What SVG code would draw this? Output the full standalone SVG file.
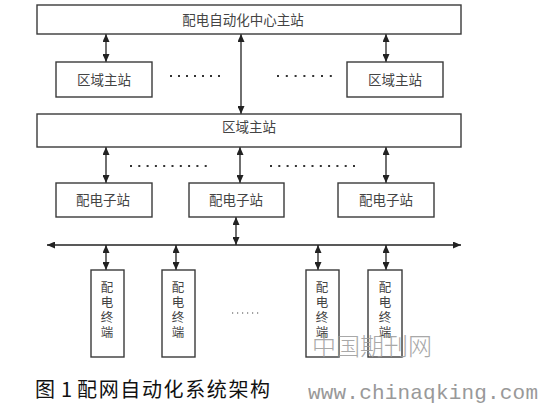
<svg xmlns="http://www.w3.org/2000/svg" width="539" height="407" viewBox="0 0 539 407">
<defs>
<marker id="ah" viewBox="0 0 8 7" refX="8" refY="3.5" markerWidth="8" markerHeight="7" markerUnits="userSpaceOnUse" orient="auto-start-reverse">
<path d="M0,0 L8,3.5 L0,7 z" fill="#222"/>
</marker>
<style>
.box{fill:#fff;stroke:#3a3a3a;stroke-width:1.4}
.lbl{font-family:"Noto Sans CJK SC","Noto Sans",sans-serif;font-size:13.5px;fill:#444;text-anchor:middle}
.vl{font-family:"Liberation Sans","Noto Sans CJK SC",sans-serif;font-size:12.5px;fill:#444;text-anchor:middle}
.con{stroke:#222;stroke-width:1.3;fill:none;marker-start:url(#ah);marker-end:url(#ah)}
.dots{stroke:#333;stroke-width:2;fill:none}
</style>
</defs>
<rect width="539" height="407" fill="#fff"/>

<g id="connectors">
<line class="con" x1="106" y1="34" x2="106" y2="62"/>
<line class="con" x1="386" y1="34" x2="386" y2="62"/>
<line class="con" x1="241" y1="34" x2="241" y2="114"/>
<line class="con" x1="106" y1="147" x2="106" y2="183"/>
<line class="con" x1="240" y1="147" x2="240" y2="183"/>
<line class="con" x1="386" y1="147" x2="386" y2="183"/>
<line class="con" x1="236" y1="217" x2="236" y2="245"/>
<line class="con" x1="47" y1="245" x2="461" y2="245"/>
<line class="con" x1="106" y1="245" x2="106" y2="270"/>
<line class="con" x1="176" y1="245" x2="176" y2="270"/>
<line class="con" x1="318" y1="245" x2="318" y2="270"/>
<line class="con" x1="386" y1="245" x2="386" y2="270"/>
</g>

<g id="ellipses">
<line class="dots" x1="170" y1="76" x2="220" y2="76" stroke-dasharray="2 6"/>
<line class="dots" x1="277" y1="76" x2="332" y2="76" stroke-dasharray="2 6.8"/>
<line class="dots" x1="130" y1="166" x2="207" y2="166" stroke-dasharray="2 6.3"/>
<line class="dots" x1="270" y1="166" x2="355" y2="166" stroke-dasharray="2 6.3"/>
<line stroke="#444" stroke-width="1.2" x1="232" y1="313" x2="260" y2="313" stroke-dasharray="1.2 3.8"/>
</g>

<g id="center-master">
<rect class="box" x="37" y="5" width="424" height="29"/>
<text class="lbl" x="243" y="25">配电自动化中心主站</text>
</g>
<g id="region-left">
<rect class="box" x="56" y="62" width="96" height="35"/>
<text class="lbl" x="104" y="85">区域主站</text>
</g>
<g id="region-right">
<rect class="box" x="347" y="62" width="96" height="35"/>
<text class="lbl" x="395" y="85">区域主站</text>
</g>
<g id="region-main">
<rect class="box" x="37" y="114" width="424" height="33"/>
<text class="lbl" x="249" y="132">区域主站</text>
</g>
<g id="sub-left">
<rect class="box" x="56" y="183" width="96" height="34"/>
<text class="lbl" x="103" y="205">配电子站</text>
</g>
<g id="sub-mid">
<rect class="box" x="189" y="183" width="95" height="34"/>
<text class="lbl" x="236" y="205">配电子站</text>
</g>
<g id="sub-right">
<rect class="box" x="338" y="183" width="96" height="34"/>
<text class="lbl" x="386" y="205">配电子站</text>
</g>
<g id="term-1">
<rect class="box" x="91" y="270" width="33" height="87"/>
<text class="vl" x="107" y="292">配</text><text class="vl" x="107" y="307">电</text><text class="vl" x="107" y="322">终</text><text class="vl" x="107" y="337">端</text>
</g>
<g id="term-2">
<rect class="box" x="162" y="270" width="33" height="87"/>
<text class="vl" x="178" y="292">配</text><text class="vl" x="178" y="307">电</text><text class="vl" x="178" y="322">终</text><text class="vl" x="178" y="337">端</text>
</g>
<g id="term-3">
<rect class="box" x="306" y="270" width="33" height="87"/>
<text class="vl" x="322" y="292">配</text><text class="vl" x="322" y="307">电</text><text class="vl" x="322" y="322">终</text><text class="vl" x="322" y="337">端</text>
</g>
<g id="term-4">
<rect class="box" x="368" y="270" width="34" height="87"/>
<text class="vl" x="385" y="292">配</text><text class="vl" x="385" y="307">电</text><text class="vl" x="385" y="322">终</text><text class="vl" x="385" y="337">端</text>
</g>

<g id="watermark" fill="#999" opacity="0.85">
<text x="312" y="355" font-family="Noto Sans CJK SC,sans-serif" font-size="24" textLength="120" font-weight="300">中国期刊网</text>
<text x="308" y="399" font-family="Liberation Mono,monospace" font-size="21" textLength="230" fill="#888">www.chinaqking.com</text>
</g>

<g id="caption" font-family="Noto Sans CJK SC,serif" font-size="20" fill="#111">
<text x="35" y="397">图</text>
<text x="61" y="397">1</text>
<text x="77" y="397" textLength="193">配网自动化系统架构</text>
</g>
</svg>
